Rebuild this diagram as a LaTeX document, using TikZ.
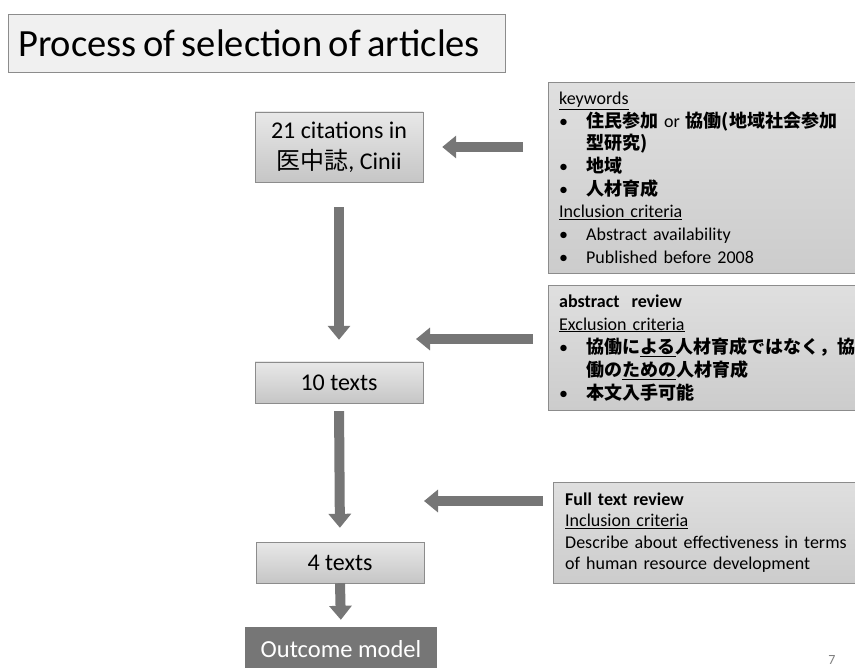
\documentclass[tikz,border=0pt]{standalone}
\usepackage{fontspec}
\setmainfont{Carlito}
\newfontfamily\titlefont{Carlito}[WordSpace=0.75]
\newfontfamily\jp{Noto Sans CJK JP}
\usetikzlibrary{arrows.meta}
\newcommand{\ja}[1]{{\jp\bfseries #1}}
\newcommand{\bul}{\makebox[27pt][l]{\textbullet}}
\definecolor{boxline}{HTML}{8C8C8C}
\definecolor{arrowgray}{HTML}{767676}
\tikzset{
  stage/.style={draw=boxline, top color=gray!18, bottom color=gray!45, minimum width=168pt,
    inner sep=0pt, align=center, font=\fontsize{24}{31}\selectfont},
  note/.style={draw=boxline, top color=gray!25, bottom color=gray!40, anchor=north west,
    align=left, inner xsep=11pt, inner ysep=0pt, text width=293pt, font=\fontsize{18}{22.7}\selectfont},
  flow/.style={draw=arrowgray, fill=arrowgray, line width=10pt, arrows={-Triangle[width=22pt, length=14pt]}}
}
\begin{document}
\begin{tikzpicture}[x=1pt,y=-1pt]
\useasboundingbox (0,0) rectangle (855,668);
\node[draw=boxline, fill=gray!12, anchor=west, inner xsep=10pt, minimum height=58pt,
  font=\titlefont\fontsize{38.5}{40}\selectfont] (title) at (8,43) {\makebox[477pt][l]{Process of selection of articles}};

\node[stage, minimum height=70pt] (cit) at (339,147) {21 citations in\\{\jp 医中誌}, Cinii};
\node[stage, minimum height=41pt] (ten) at (339,382.5) {10 texts};
\node[stage, minimum height=41pt] (four) at (340,562.5) {4 texts};
\node[fill=arrowgray, text=white, minimum width=192pt, minimum height=44pt, inner sep=0pt,
  font=\fontsize{24.5}{30}\selectfont] (out) at (341,649) {Outcome model};

\node[note, minimum height=191pt] (kw) at (548,82) {\underline{keywords}\\
  \bul\ja{住民参加} or \ja{協働(地域社会参加}\\
  \hspace*{27pt}\ja{型研究)}\\
  \bul\ja{地域}\\
  \bul\ja{人材育成}\\
  \underline{Inclusion criteria}\\
  \bul Abstract availability\\
  \bul Published before 2008};
\node[note, minimum height=125pt, font=\fontsize{18}{23}\selectfont] (abs) at (548,285) {\textbf{abstract\ \ review}\\
  \underline{Exclusion criteria}\\
  \bul\ja{協働に\underline{よる}人材育成ではなく，協}\\
  \hspace*{27pt}\ja{働の\underline{ための}人材育成}\\
  \bul\ja{本文入手可能}};
\node[note, minimum height=101pt, inner xsep=12pt, text width=295pt, font=\fontsize{18}{21.5}\selectfont]
  (full) at (553,482) {\textbf{Full text review}\\
  \underline{Inclusion criteria}\\
  Describe about effectiveness in terms\\
  of human resource development};

\coordinate (m2) at (416,339);
\coordinate (m3) at (424,501);
\draw[flow, shorten <=25pt, shorten >=19pt] (kw.west |- cit.east) -- (cit.east);
\draw[flow, shorten <=15pt] (abs.west |- m2) -- (m2);
\draw[flow, shorten <=10pt] (full.west |- m3) -- (m3);
\draw[flow, shorten <=25pt, shorten >=22pt] (cit.south) -- (ten.north);
\draw[flow, shorten <=8pt, shorten >=14pt] (ten.south) -- (four.north);
\draw[flow, shorten >=7pt] (four.south) -- (out.north);

\node[text=gray, font=\fontsize{14}{14}\selectfont] (page) at (832,660) {7};
\end{tikzpicture}
\end{document}
